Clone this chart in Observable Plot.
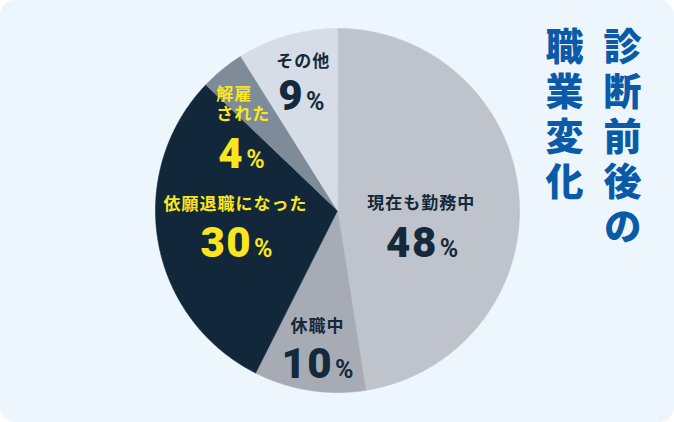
<!DOCTYPE html>
<html><head><meta charset="utf-8">
<script src="https://cdn.jsdelivr.net/npm/d3@7"></script>
<script src="https://cdn.jsdelivr.net/npm/@observablehq/plot@0.6"></script>
<style>
html,body{margin:0;padding:0;background:#ffffff;}
#wrap{position:relative;width:674px;height:422px;background:#edf5fd;border-radius:15px;overflow:hidden;}
#title{position:absolute;left:535px;top:27px;width:116px;height:260px;writing-mode:vertical-rl;
 font-family:"Noto Sans CJK JP",sans-serif;font-weight:900;font-size:38px;letter-spacing:7px;line-height:58px;color:#0a5aa8;}
#chart{position:absolute;left:0;top:0;}
</style></head>
<body>
<div id="wrap"><div id="chart"></div><div id="title">診断前後の<br>職業変化</div></div>
<script>
// data
const categories = ["現在も勤務中", "休職中", "依願退職になった", "解雇\nされた", "その他"];
const values = [48, 10, 30, 4, 9];
// styles (separate from data)
const sliceColors = ["#bfc3cb", "#a7abb3", "#12283a", "#7e8b98", "#d6dde6"];
const textColors = ["#14293b", "#14293b", "#f9e61e", "#f9e61e", "#14293b"];
// label layout: pixel nudges from slice centroid
const labelLayout = [
  {ldx: -16, ldy: 0, ndx: -15, ndy: 41, anchor: "middle"},
  {ldx: -4.5, ldy: 16.5, ndx: -4.5, ndy: 55.5, anchor: "middle"},
  {ldx: -3.5, ldy: -24.5, ndx: -2.5, ndy: 16.5, anchor: "middle"},
  {ldx: -58, ldy: -29.5, ndx: -56, ndy: 22, anchor: "start"},
  {ldx: -6.5, ldy: -54, ndx: -8.5, ndy: -17.5, anchor: "middle"}
];

const R = 182, CX = 337, CY = 210, W = 674, H = 422;
const rows = categories.map((c, i) => ({category: c, value: values[i]}));
const arcs = d3.pie().sort(null).value(d => d.value)(rows);

const marks = [];
arcs.forEach((a, i) => {
  const pts = [{x: 0, y: 0}];
  const n = Math.max(2, Math.ceil((a.endAngle - a.startAngle) / (Math.PI / 360)));
  for (let k = 0; k <= n; k++) {
    const t = a.startAngle + (a.endAngle - a.startAngle) * k / n;
    pts.push({x: Math.sin(t), y: Math.cos(t)});
  }
  marks.push(Plot.line(pts, {x: "x", y: "y", fill: sliceColors[i], stroke: sliceColors[i], strokeWidth: 0.6, curve: "linear-closed"}));
});
arcs.forEach((a, i) => {
  const mid = (a.startAngle + a.endAngle) / 2;
  const r = 100 / R;
  const c = [{x: r * Math.sin(mid), y: r * Math.cos(mid), label: a.data.category, num: a.data.value + "%"}];
  const L = labelLayout[i];
  marks.push(Plot.text(c, {x: "x", y: "y", text: "label", dx: L.ldx, dy: L.ldy, textAnchor: L.anchor, lineAnchor: "middle",
    fill: textColors[i], fontSize: 17, fontWeight: 700, lineHeight: 1.2, fontFamily: "'Noto Sans CJK JP', sans-serif"}));
  marks.push(Plot.text(c, {x: "x", y: "y", text: "num", dx: L.ndx, dy: L.ndy, textAnchor: L.anchor, lineAnchor: "middle",
    fill: textColors[i], fontSize: 42, fontWeight: 900, fontFamily: "Roboto, 'DejaVu Sans', sans-serif"}));
});

const chart = Plot.plot({
  width: W, height: H, margin: 0,
  x: {domain: [-CX / R, (W - CX) / R], axis: null},
  y: {domain: [-(H - CY) / R, CY / R], axis: null},
  style: {background: "transparent", overflow: "visible"},
  marks
});
document.getElementById("chart").appendChild(chart);

d3.select(chart).selectAll("text").each(function() {
  const el = d3.select(this);
  const t = this.textContent;
  if (/^\d+%$/.test(t)) {
    const num = t.slice(0, -1);
    el.text(null);
    el.append("tspan").text(num).style("letter-spacing", "1.5px");
    el.append("tspan").text("%").attr("font-size", 25).attr("font-weight", 700).attr("dx", 2);
  } else if (!/^\d/.test(t)) {
    el.style("letter-spacing", "1px");
  }
});
</script>
</body></html>
